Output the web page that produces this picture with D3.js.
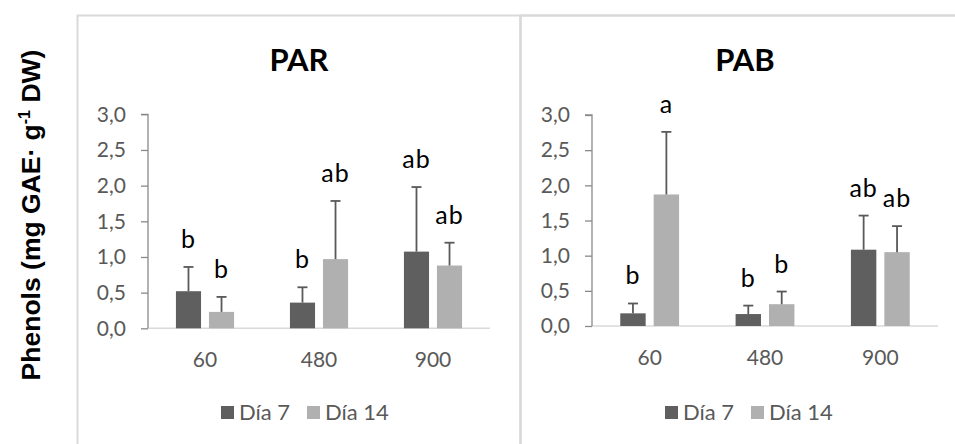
<!DOCTYPE html>
<html>
<head>
<meta charset="utf-8">
<script src="https://cdn.jsdelivr.net/npm/d3@7"></script>
<style>
  html, body { margin: 0; padding: 0; background: #fff; }
  svg { display: block; }
</style>
</head>
<body>
<svg id="chart" width="955" height="444"></svg>
<script>
// Total phenols by light dose, two sampling days, two light treatments
const categories = ["60", "480", "900"];
const seriesNames = ["Día 7", "Día 14"];
const yTicks = [0, 0.5, 1.0, 1.5, 2.0, 2.5, 3.0];

const parDay7 = [0.52, 0.36, 1.075];
const parDay7Err = [0.34, 0.215, 0.905];
const parDay14 = [0.23, 0.97, 0.88];
const parDay14Err = [0.21, 0.815, 0.32];
const parDay7Letters = ["b", "b", "ab"];
const parDay14Letters = ["b", "ab", "ab"];

const pabDay7 = [0.18, 0.17, 1.085];
const pabDay7Err = [0.14, 0.12, 0.485];
const pabDay14 = [1.87, 0.31, 1.05];
const pabDay14Err = [0.89, 0.18, 0.37];
const pabDay7Letters = ["b", "b", "ab"];
const pabDay14Letters = ["a", "b", "ab"];

const colors = ["#5f5f5f", "#b0b0b0"];
const textGray = "#595959";
const frameGray = "#d9d9d9";
const uiFont = "Lato, 'Open Sans', sans-serif";

const svg = d3.select("#chart");

// panel frames
svg.append("rect").attr("x", 77.5).attr("y", 15.5).attr("width", 443).attr("height", 440)
  .attr("fill", "none").attr("stroke", frameGray).attr("stroke-width", 2);
svg.append("rect").attr("x", 520.5).attr("y", 15.5).attr("width", 440).attr("height", 440)
  .attr("fill", "none").attr("stroke", frameGray).attr("stroke-width", 2.5);

// shared y-axis title
const yTitle = svg.append("text")
  .attr("transform", "translate(40,215) rotate(-90)")
  .attr("text-anchor", "middle")
  .style("font-family", "'Liberation Sans', Arial, sans-serif")
  .style("font-weight", "bold")
  .style("font-size", "26.5px")
  .attr("fill", "#000");
yTitle.append("tspan").text("Phenols (mg GAE· g");
yTitle.append("tspan").attr("dy", -10).style("font-size", "16px").text("-1");
yTitle.append("tspan").attr("dy", 10).text(" DW)");

function drawPanel(cfg) {
  const g = svg.append("g");
  const x = d3.scaleBand().domain(categories).range([cfg.x0, cfg.x1]).padding(0);
  const y = d3.scaleLinear().domain([0, 3]).range([cfg.yBottom, cfg.yTop]);
  const groupW = x.step() * 0.51;
  const xs = d3.scaleBand().domain(seriesNames).range([0, groupW]).paddingInner(0.24).paddingOuter(0);

  // title
  g.append("text")
    .attr("x", cfg.titleX).attr("y", 71)
    .attr("text-anchor", "middle")
    .style("font-family", uiFont)
    .style("font-weight", "bold").style("font-size", "31px")
    .attr("fill", "#000").text(cfg.title);

  // x axis baseline
  g.append("line")
    .attr("x1", cfg.x0).attr("x2", cfg.x1)
    .attr("y1", y(0)).attr("y2", y(0))
    .attr("stroke", frameGray).attr("stroke-width", 1.5);

  // category labels
  g.selectAll("text.cat").data(categories).join("text")
    .attr("class", "cat")
    .attr("x", d => x(d) + x.bandwidth() / 2)
    .attr("y", y(0) + 39)
    .attr("text-anchor", "middle")
    .style("font-family", uiFont)
    .style("font-size", "21px")
    .attr("fill", textGray)
    .text(d => d);

  // y axis
  const yAxis = d3.axisLeft(y)
    .tickValues(yTicks)
    .tickSize(7)
    .tickPadding(15)
    .tickFormat(d => d3.format(".1f")(d).replace(".", ","));
  const ya = g.append("g").attr("transform", `translate(${cfg.x0},0)`).call(yAxis);
  ya.select(".domain").attr("stroke", "#8a8a8a").attr("stroke-width", 1.3)
    .attr("d", `M-7,${y(3)}H0V${y(0)}`);
  ya.selectAll(".tick line").attr("stroke", "#8a8a8a").attr("stroke-width", 1.3);
  ya.selectAll(".tick text")
    .style("font-family", uiFont)
    .style("font-size", "21px")
    .attr("fill", textGray);

  // bars, error bars, letters
  const rows = [];
  categories.forEach((c, i) => {
    cfg.series.forEach((s, j) => {
      rows.push({ cat: c, name: seriesNames[j], v: s.values[i], e: s.err[i], lbl: s.letters[i], color: colors[j] });
    });
  });
  const left = d => x(d.cat) + (x.bandwidth() - groupW) / 2 + xs(d.name);
  const cx = d => left(d) + xs.bandwidth() / 2;

  g.selectAll("rect.bar").data(rows).join("rect")
    .attr("class", "bar")
    .attr("x", left)
    .attr("y", d => y(d.v))
    .attr("width", xs.bandwidth())
    .attr("height", d => y(0) - y(d.v))
    .attr("fill", d => d.color);

  const errG = g.selectAll("g.err").data(rows).join("g").attr("class", "err");
  errG.append("line")
    .attr("x1", cx).attr("x2", cx)
    .attr("y1", d => y(d.v)).attr("y2", d => y(d.v + d.e))
    .attr("stroke", textGray).attr("stroke-width", 1.8);
  errG.append("line")
    .attr("x1", d => cx(d) - 5).attr("x2", d => cx(d) + 5)
    .attr("y1", d => y(d.v + d.e)).attr("y2", d => y(d.v + d.e))
    .attr("stroke", textGray).attr("stroke-width", 1.8);

  g.selectAll("text.letter").data(rows).join("text")
    .attr("class", "letter")
    .attr("x", cx)
    .attr("y", d => y(d.v + d.e) - 19)
    .attr("text-anchor", "middle")
    .style("font-family", uiFont)
    .style("font-size", "25px")
    .style("letter-spacing", "1px")
    .attr("fill", "#000")
    .text(d => d.lbl);

  // legend
  const lg = g.append("g").attr("transform", `translate(${cfg.x0 + 73},406)`);
  const items = lg.selectAll("g").data(seriesNames).join("g")
    .attr("transform", (d, i) => `translate(${i * 86},0)`);
  items.append("rect").attr("width", 13).attr("height", 13)
    .attr("fill", (d, i) => colors[i]);
  items.append("text").attr("x", 18).attr("y", 13.5)
    .style("font-family", uiFont)
    .style("font-size", "22px")
    .attr("fill", textGray)
    .text(d => d);
}

drawPanel({
  title: "PAR", titleX: 299,
  x0: 148, x1: 490, yBottom: 328.3, yTop: 114.3,
  series: [
    { values: parDay7, err: parDay7Err, letters: parDay7Letters },
    { values: parDay14, err: parDay14Err, letters: parDay14Letters }
  ]
});

drawPanel({
  title: "PAB", titleX: 745,
  x0: 592, x1: 938, yBottom: 326, yTop: 115,
  series: [
    { values: pabDay7, err: pabDay7Err, letters: pabDay7Letters },
    { values: pabDay14, err: pabDay14Err, letters: pabDay14Letters }
  ]
});
</script>
</body>
</html>
